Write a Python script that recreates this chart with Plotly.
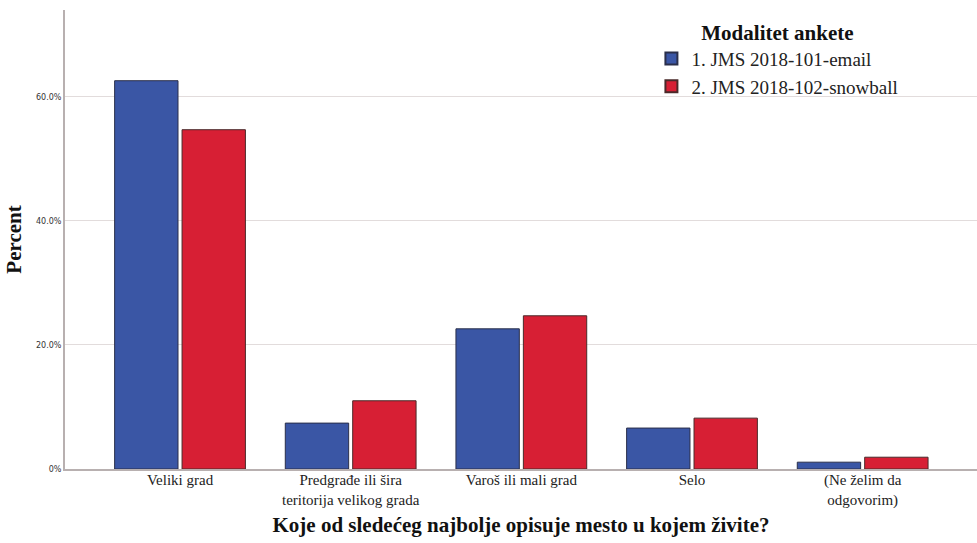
import plotly.graph_objects as go

categories = ["Veliki grad", "Predgrađe ili šira<br>teritorija velikog grada",
              "Varoš ili mali grad", "Selo", "(Ne želim da<br>odgovorim)"]
email = [62.6, 7.4, 22.6, 6.6, 1.1]
snowball = [54.7, 11.0, 24.7, 8.2, 1.9]
series_names = ["1. JMS 2018-101-email", "2. JMS 2018-102-snowball"]
y_tickvals = [0, 20, 40, 60]
y_ticktext = ["0%", "20.0%", "40.0%", "60.0%"]

serif = "Liberation Serif"

fig = go.Figure()
fig.add_trace(go.Bar(x=categories, y=email, name=series_names[0],
                     marker=dict(color="#3a56a5", line=dict(color="#2a2f4a", width=1))))
fig.add_trace(go.Bar(x=categories, y=snowball, name=series_names[1],
                     marker=dict(color="#d71f34", line=dict(color="#4a2a2a", width=1))))

fig.update_layout(
    width=977, height=543,
    margin=dict(l=65, r=0, t=10, b=74),
    paper_bgcolor="white", plot_bgcolor="white",
    barmode="group", bargap=0.21, bargroupgap=0.06,
    font=dict(family=serif, color="#222"),
    legend=dict(
        title=dict(text="<b>Modalitet ankete</b>", side="top center",
                   font=dict(family=serif, size=21, color="#111")),
        x=0.643, y=0.995, xanchor="left", yanchor="top",
        font=dict(family=serif, size=19, color="#222"),
        bgcolor="rgba(255,255,255,0)", itemsizing="constant",
        tracegroupgap=0, itemwidth=30,
    ),
    xaxis=dict(
        range=[-0.674, 4.67], automargin=False,
        showline=True, linecolor="#b8b0b0", linewidth=2,
        ticks="", ticklabelstandoff=-4,
        tickfont=dict(family=serif, size=15, color="#222"),
        title=dict(text="<b>Koje od sledećeg najbolje opisuje mesto u kojem živite?</b>",
                   font=dict(family=serif, size=21, color="#111"), standoff=10),
    ),
    yaxis=dict(
        range=[0, 74], tickvals=y_tickvals, ticktext=y_ticktext, automargin=False,
        showgrid=True, gridcolor="#e2dcdc", gridwidth=1,
        showline=True, linecolor="#b8b0b0", linewidth=2,
        ticks="", zeroline=False,
        tickfont=dict(family="DejaVu Sans", size=8, color="#333"),
        title=dict(text="<b>Percent</b>", font=dict(family=serif, size=21, color="#111"),
                   standoff=9),
    ),
)

fig.write_html("out.html", config={"displayModeBar": False},
               post_script="document.body.style.margin='0';")
